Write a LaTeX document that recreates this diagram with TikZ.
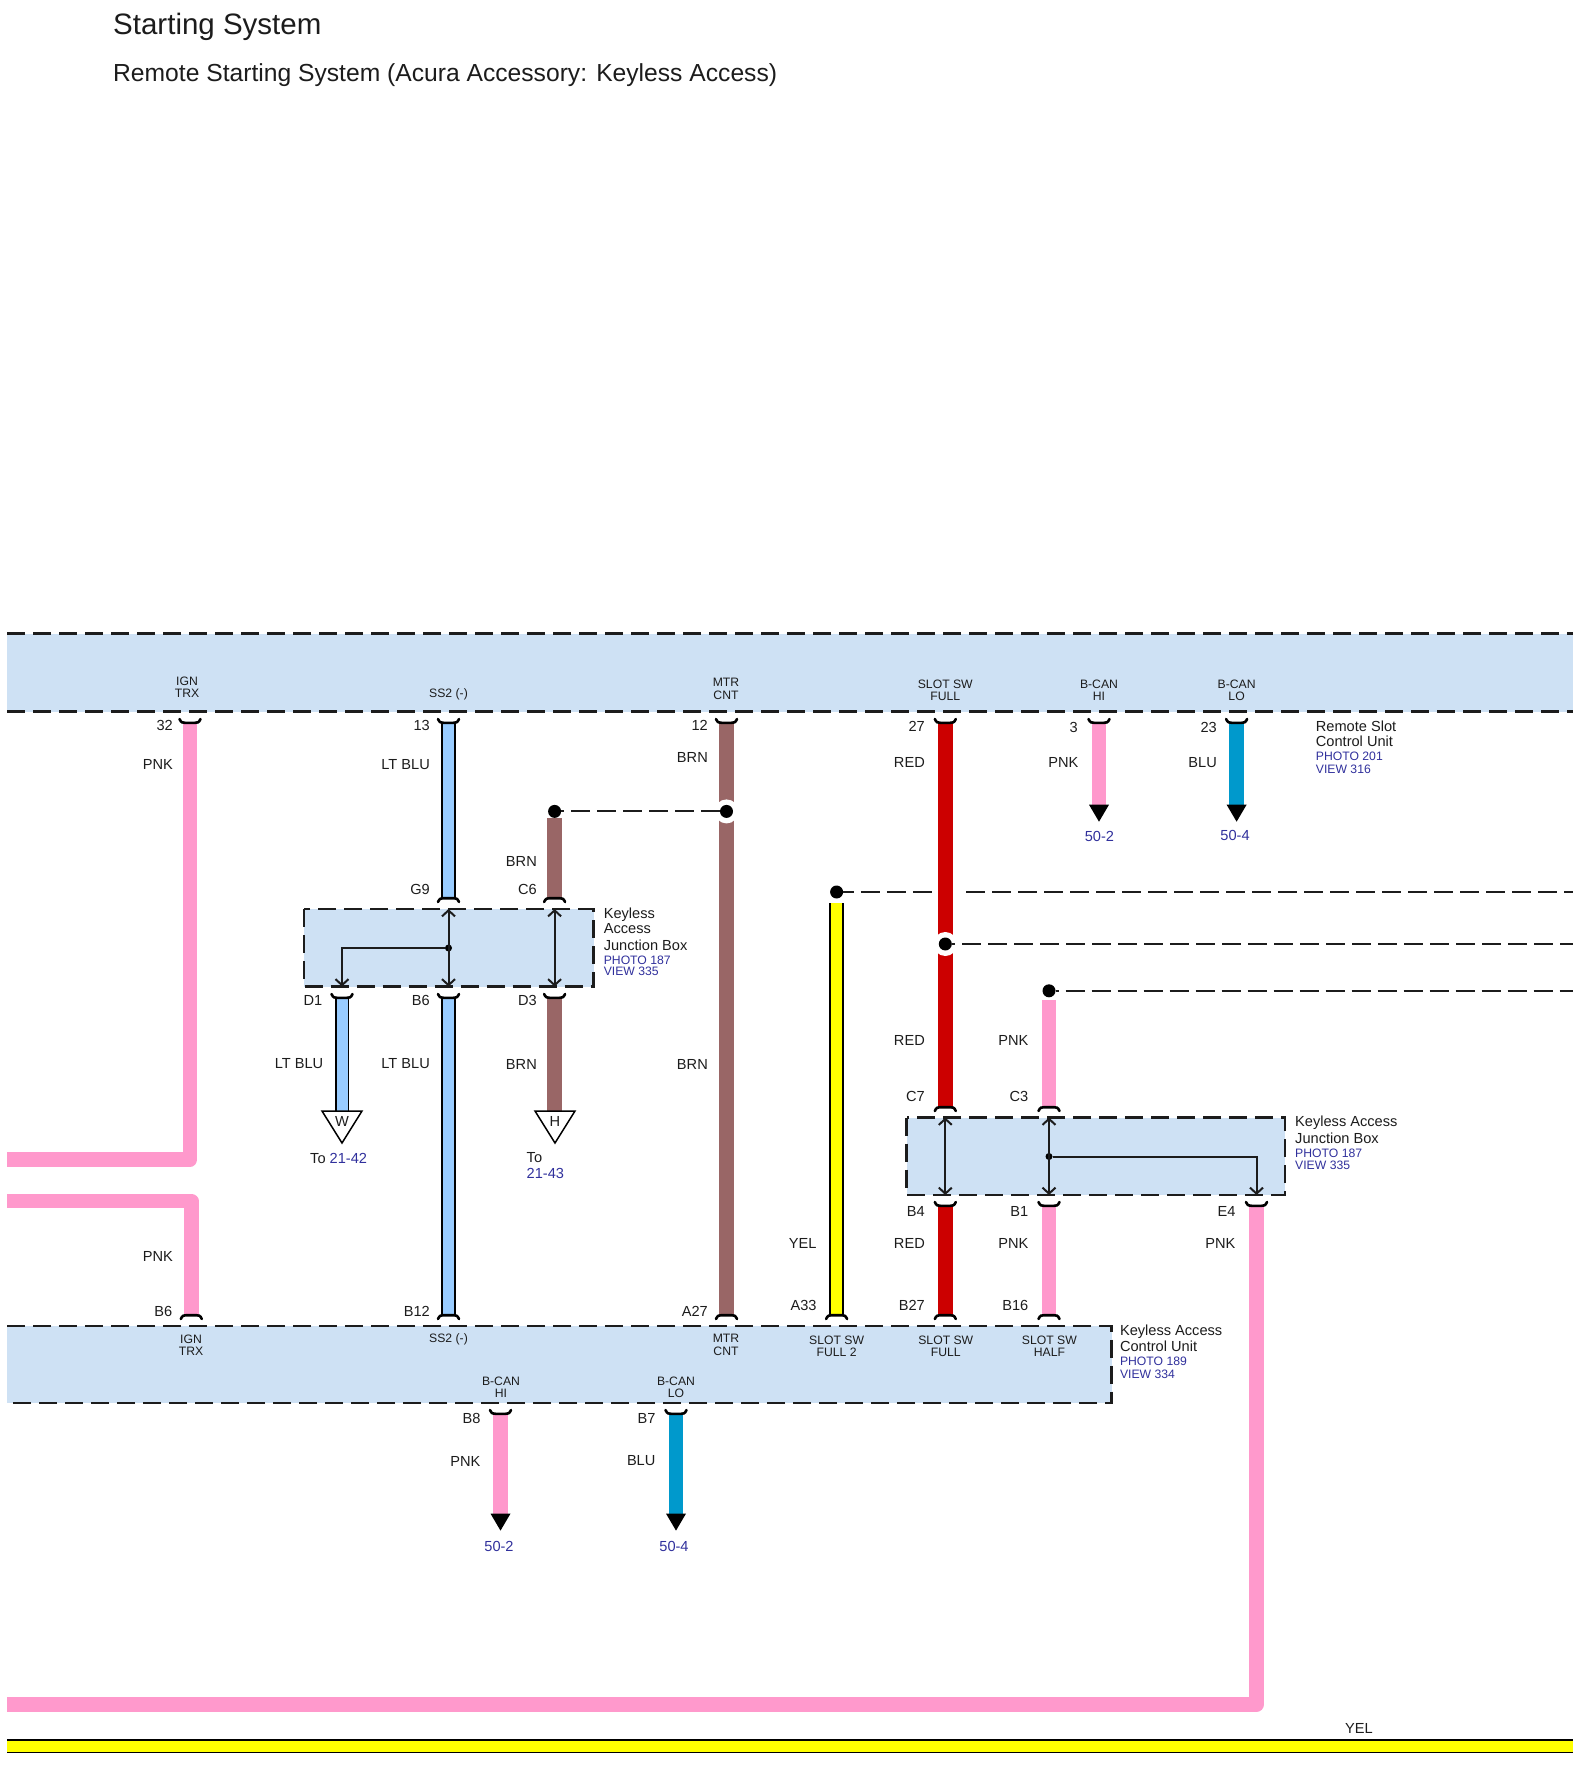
\documentclass[tikz,border=0pt]{standalone}
\usepackage{fontspec}
\setmainfont{Liberation Sans}
\usetikzlibrary{arrows.meta,shapes.geometric}
\definecolor{bandblue}{HTML}{CEE1F4}
\definecolor{wirepnk}{HTML}{FF99CC}
\definecolor{wirebrn}{HTML}{996666}
\definecolor{wirered}{HTML}{CC0000}
\definecolor{wireblu}{HTML}{0099CC}
\definecolor{wireltb}{HTML}{99CCFF}
\definecolor{wireyel}{HTML}{FFFF00}
\definecolor{linkblue}{HTML}{30309C}
\definecolor{inkgrey}{HTML}{1C1C1C}
\tikzset{
  wire/.style={line width=14.4pt,line join=round},
  edgedwire/.style={draw=black,line width=1.7pt,double=#1,double distance=11pt},
  tipped/.style={wire,-{Triangle[black,line width=0pt,width=20pt,length=17pt]}},
  band/.style={fill=bandblue},
  boxline/.style={draw=inkgrey,line width=2.5pt,dash pattern=on 18pt off 8pt},
  dashlink/.style={draw=inkgrey,line width=2pt,dash pattern=on 19pt off 7pt,dash phase=16pt},
  inner/.style={draw=inkgrey,line width=2pt},
  thru/.style={inner,{Straight Barb[length=6pt,width=13pt]}-{Straight Barb[length=6pt,width=13pt]}},
  down/.style={inner,-{Straight Barb[length=6pt,width=13pt]}},
  dot/.style={circle,fill=black,inner sep=0pt,minimum size=13pt},
  smalldot/.style={circle,fill=black,inner sep=0pt,minimum size=7pt},
  halo/.style={circle,fill=white,inner sep=0pt,minimum size=24pt},
  offtri/.style={isosceles triangle,shape border rotate=270,isosceles triangle stretches,outer sep=0pt,
    minimum width=40pt,minimum height=32pt,inner sep=0pt,draw=black,line width=1.5pt,fill=white},
  pinlbl/.style={anchor=east,inner sep=0pt,text=inkgrey,font=\fontsize{14.6}{15}\selectfont},
  termlbl/.style={align=center,inner sep=0pt,text=inkgrey,font=\fontsize{12.2}{12.4}\selectfont},
  namelbl/.style={anchor=west,inner sep=0pt,text=inkgrey,font=\fontsize{14.6}{15}\selectfont},
  reflbl/.style={anchor=west,inner sep=0pt,text=linkblue,font=\fontsize{12.2}{12.4}\selectfont},
  pagelbl/.style={inner sep=0pt,text=linkblue,font=\fontsize{14.6}{15}\selectfont},
  pinb/.pic={\draw[black,line width=2.6pt,line cap=round] (-10.5,-3) .. controls (-9,0.8) and (-7,0.8) .. (-5,0.8) -- (5,0.8) .. controls (7,0.8) and (9,0.8) .. (10.5,-3);},
  pint/.pic={\draw[black,line width=2.6pt,line cap=round] (-10.5,3) .. controls (-9,-0.8) and (-7,-0.8) .. (-5,-0.8) -- (5,-0.8) .. controls (7,-0.8) and (9,-0.8) .. (10.5,3);},
}
\begin{document}
\begin{tikzpicture}[x=1pt,y=-1pt]
\useasboundingbox (0,0) rectangle (1580,1768);
% titles
\node[anchor=west,inner sep=0pt,text=inkgrey,font=\fontsize{29.5}{32}\selectfont] (title) at (113,27) {Starting System};
\node[anchor=west,inner sep=0pt,text=inkgrey,font=\fontsize{24.65}{27}\selectfont] (subtitle) at (113,75) {Remote Starting System (Acura Accessory: Keyless Access)};
% shaded units
\coordinate (topnw) at (7,633.5);
\coordinate (topne) at (1573,633.5);
\coordinate (topsw) at (7,711.5);
\coordinate (topse) at (1573,711.5);
\coordinate (lownw) at (7,1326);
\coordinate (lowne) at (1111.5,1326);
\coordinate (lowsw) at (7,1403);
\coordinate (lowse) at (1111.5,1403);
\path[band] (topnw) rectangle (topse);
\path[band] (lownw) rectangle (lowse);
\path[band] (304,909) rectangle (593.5,986.5);
\path[band] (906.5,1117.5) rectangle (1285,1195);
\path[boxline] (topnw) -- (topne);
\path[boxline] (topsw) -- (topse);
\path[boxline] (lownw) -- (lowne) -- (lowse) -- (lowsw);
\path[boxline] (304,909) rectangle (593.5,986.5);
\path[boxline] (906.5,1117.5) rectangle (1285,1195);
% pin positions
\coordinate (p32) at (190,722);
\coordinate (p13) at (448.5,722);
\coordinate (p12) at (726.5,722);
\coordinate (p27) at (945.3,722);
\coordinate (p3) at (1099,722);
\coordinate (p23) at (1236.6,722);
\coordinate (pg9) at (448.5,899);
\coordinate (pc6) at (554.6,899);
\coordinate (pd1) at (342,997);
\coordinate (pb6) at (448.5,997);
\coordinate (pd3) at (554.6,997);
\coordinate (pc7) at (945.3,1108);
\coordinate (pc3) at (1049,1108);
\coordinate (pb4) at (945.3,1205);
\coordinate (pb1) at (1049,1205);
\coordinate (pe4) at (1256.5,1205);
\coordinate (qb6) at (191.3,1316);
\coordinate (qb12) at (448.5,1316);
\coordinate (qa27) at (726.5,1316);
\coordinate (qa33) at (836.6,1316);
\coordinate (qb27) at (945.3,1316);
\coordinate (qb16) at (1049,1316);
\coordinate (qb8) at (500.5,1413);
\coordinate (qb7) at (676,1413);
% wires
\draw[wire,wirepnk] (p32) -- (190,1159.6) -- (7,1159.6);
\draw[wire,wirepnk] (qb6) -- (191.3,1201) -- (7,1201);
\draw[edgedwire=wireltb] (p13) -- (pg9);
\draw[edgedwire=wireltb] (pb6) -- (qb12);
\draw[edgedwire=wireltb] (pd1) -- (342,1111);
\draw[wire,wirebrn] (p12) -- (qa27);
\draw[wire,wirebrn] (554.6,818) -- (pc6);
\draw[wire,wirebrn] (pd3) -- (554.6,1111);
\draw[wire,wirered] (p27) -- (pc7);
\draw[wire,wirered] (pb4) -- (qb27);
\draw[wire,wirepnk] (1049,1000) -- (pc3);
\draw[wire,wirepnk] (pb1) -- (qb16);
\draw[edgedwire=wireyel] (836.6,903) -- (qa33);
\draw[wire,wirepnk] (pe4) -- (1256.5,1704.6) -- (7,1704.6);
\draw[tipped,wirepnk] (p3) -- (1099,821.7);
\draw[tipped,wireblu] (p23) -- (1236.6,821.7);
\draw[tipped,wirepnk] (qb8) -- (500.5,1530.6);
\draw[tipped,wireblu] (qb7) -- (676,1530.6);
\draw[edgedwire=wireyel] (7,1746) -- (1573,1746);
% connector pins
\pic at (p32) {pinb};
\pic at (p13) {pinb};
\pic at (p12) {pinb};
\pic at (p27) {pinb};
\pic at (p3) {pinb};
\pic at (p23) {pinb};
\pic at (pg9) {pint};
\pic at (pc6) {pint};
\pic at (pd1) {pinb};
\pic at (pb6) {pinb};
\pic at (pd3) {pinb};
\pic at (pc7) {pint};
\pic at (pc3) {pint};
\pic at (pb4) {pinb};
\pic at (pb1) {pinb};
\pic at (pe4) {pinb};
\pic at (qb6) {pint};
\pic at (qb12) {pint};
\pic at (qa27) {pint};
\pic at (qa33) {pint};
\pic at (qb27) {pint};
\pic at (qb16) {pint};
\pic at (qb8) {pinb};
\pic at (qb7) {pinb};
% shield dots and dashed links
\node[halo] (brnhalo) at (726.5,811.4) {};
\node[halo] (redhalo) at (945.3,944) {};
\node[dot] (brndot) at (726.5,811.4) {};
\node[dot] (brnend) at (554.6,811.4) {};
\node[dot] (yeldot) at (836.6,892) {};
\node[dot] (reddot) at (945.3,944) {};
\node[dot] (pnkdot) at (1049,990.8) {};
\coordinate (yelgapl) at (931.5,892);
\coordinate (yelgapr) at (966,892);
\coordinate (yelout) at (1573,892);
\coordinate (redout) at (1573,944);
\coordinate (pnkout) at (1573,990.8);
\draw[dashlink] (brnend) -- (brndot);
\draw[dashlink,dash phase=8.5pt] (yeldot) -- (yelgapl);
\draw[dashlink,dash phase=0pt] (yelgapr) -- (yelout);
\draw[dashlink] (reddot) -- (redout);
\draw[dashlink] (pnkdot) -- (pnkout);
% inside the junction boxes
\node[smalldot] (jbl) at (448.5,948) {};
\node[smalldot] (jbr) at (1049,1156.5) {};
\coordinate (ing9) at (448.5,909);
\coordinate (inb6) at (448.5,986.5);
\coordinate (inc6) at (554.6,909);
\coordinate (ind3) at (554.6,986.5);
\coordinate (ind1) at (342,986.5);
\coordinate (inc7) at (945.3,1117.5);
\coordinate (inb4) at (945.3,1195);
\coordinate (inc3) at (1049,1117.5);
\coordinate (inb1) at (1049,1195);
\coordinate (ine4) at (1256.5,1195);
\draw[thru] (ing9) -- (inb6);
\draw[thru] (inc6) -- (ind3);
\draw[down] (jbl) -| (ind1);
\draw[thru] (inc7) -- (inb4);
\draw[thru] (inc3) -- (inb1);
\draw[down] (jbr) -| (ine4);
% off page triangles
\node[offtri,anchor=apex] (triw) at (342,1143) {};
\node[offtri,anchor=apex] (trih) at (555,1143) {};
\node[inner sep=0pt,text=inkgrey,font=\fontsize{14.6}{15}\selectfont] (triwtxt) at (342,1121) {W};
\node[inner sep=0pt,text=inkgrey,font=\fontsize{14.6}{15}\selectfont] (trihtxt) at (555,1121) {H};
% terminal names
\node[termlbl] (tign) at (187,687) {IGN\\TRX};
\node[termlbl] (tss) at (448.5,694.5) {SS2 (-)};
\node[termlbl] (tmtr) at (726,689) {MTR\\CNT};
\node[termlbl] (tslot) at (945.3,690) {SLOT SW\\FULL};
\node[termlbl] (tcanh) at (1099,690) {B-CAN\\HI};
\node[termlbl] (tcanl) at (1236.6,690) {B-CAN\\LO};
\node[termlbl] (uign) at (191,1345) {IGN\\TRX};
\node[termlbl] (uss) at (448.5,1339) {SS2 (-)};
\node[termlbl] (umtr) at (726,1345) {MTR\\CNT};
\node[termlbl] (uslot2) at (836.6,1346) {SLOT SW\\FULL 2};
\node[termlbl] (uslot) at (945.8,1346) {SLOT SW\\FULL};
\node[termlbl] (uhalf) at (1049.4,1346) {SLOT SW\\HALF};
\node[termlbl] (ucanh) at (501,1387) {B-CAN\\HI};
\node[termlbl] (ucanl) at (676,1387) {B-CAN\\LO};
% pin numbers
\node[pinlbl] (n32) at (173,725) {32};
\node[pinlbl] (n13) at (430,725) {13};
\node[pinlbl] (n12) at (708,725) {12};
\node[pinlbl] (n27) at (925,726) {27};
\node[pinlbl] (n3) at (1078,727) {3};
\node[pinlbl] (n23) at (1217,727) {23};
\node[pinlbl] (ng9) at (430,889) {G9};
\node[pinlbl] (nc6) at (537,889) {C6};
\node[pinlbl] (nd1) at (322.5,1000) {D1};
\node[pinlbl] (nb6) at (430,1000) {B6};
\node[pinlbl] (nd3) at (537,1000) {D3};
\node[pinlbl] (nc7) at (925,1096.5) {C7};
\node[pinlbl] (nc3) at (1028.5,1096.5) {C3};
\node[pinlbl] (nb4) at (925,1211) {B4};
\node[pinlbl] (nb1) at (1028.5,1211) {B1};
\node[pinlbl] (ne4) at (1235.6,1211) {E4};
\node[pinlbl] (mb6) at (172.5,1311) {B6};
\node[pinlbl] (mb12) at (430,1311) {B12};
\node[pinlbl] (ma27) at (708,1311) {A27};
\node[pinlbl] (ma33) at (816.7,1305) {A33};
\node[pinlbl] (mb27) at (925,1305) {B27};
\node[pinlbl] (mb16) at (1028.5,1305) {B16};
\node[pinlbl] (mb8) at (480.6,1418.5) {B8};
\node[pinlbl] (mb7) at (655.6,1418.5) {B7};
% wire colours
\node[pinlbl] (c1) at (173,764.7) {PNK};
\node[pinlbl] (c2) at (430,764.7) {LT BLU};
\node[pinlbl] (c3) at (708,757.8) {BRN};
\node[pinlbl] (c4) at (925,762.4) {RED};
\node[pinlbl] (c5) at (1078.5,762.4) {PNK};
\node[pinlbl] (c6) at (1217,762.4) {BLU};
\node[pinlbl] (c7) at (537,861) {BRN};
\node[pinlbl] (c8) at (323.5,1064) {LT BLU};
\node[pinlbl] (c9) at (430,1064) {LT BLU};
\node[pinlbl] (c10) at (537,1064) {BRN};
\node[pinlbl] (c11) at (708,1064) {BRN};
\node[pinlbl] (c12) at (925,1040) {RED};
\node[pinlbl] (c13) at (1028.5,1040) {PNK};
\node[pinlbl] (c14) at (816.7,1243) {YEL};
\node[pinlbl] (c15) at (925,1243) {RED};
\node[pinlbl] (c16) at (1028.5,1243) {PNK};
\node[pinlbl] (c17) at (1235.6,1243) {PNK};
\node[pinlbl] (c18) at (173,1256) {PNK};
\node[pinlbl] (c19) at (480.6,1461) {PNK};
\node[pinlbl] (c20) at (655.6,1461) {BLU};
\node[pinlbl,anchor=center] (c21) at (1359,1728.5) {YEL};
% unit names and references
\node[namelbl] (remote1) at (1315.7,726) {Remote Slot};
\node[namelbl] (remote2) at (1315.7,741) {Control Unit};
\node[reflbl] (remote3) at (1315.7,756.6) {PHOTO 201};
\node[reflbl] (remote4) at (1315.7,769) {VIEW 316};
\node[namelbl] (jbl1) at (603.6,914.3) {Keyless};
\node[namelbl] (jbl2) at (603.6,929) {Access};
\node[namelbl] (jbl3) at (603.6,945) {Junction Box};
\node[reflbl] (jbl4) at (603.6,960) {PHOTO 187};
\node[reflbl] (jbl5) at (603.6,971.7) {VIEW 335};
\node[namelbl] (jbr1) at (1295,1123) {Keyless Access};
\node[namelbl] (jbr2) at (1295,1138.6) {Junction Box};
\node[reflbl] (jbr3) at (1295,1153.5) {PHOTO 187};
\node[reflbl] (jbr4) at (1295,1165) {VIEW 335};
\node[namelbl] (kacu1) at (1119.8,1331.5) {Keyless Access};
\node[namelbl] (kacu2) at (1119.8,1346) {Control Unit};
\node[reflbl] (kacu3) at (1119.8,1361.5) {PHOTO 189};
\node[reflbl] (kacu4) at (1119.8,1374) {VIEW 334};
% page references
\node[pagelbl] (pg1) at (1099.4,836) {50-2};
\node[pagelbl] (pg2) at (1235,835) {50-4};
\node[pagelbl] (pg3) at (499,1546.7) {50-2};
\node[pagelbl] (pg4) at (674,1546.7) {50-4};
\node[namelbl] (towto) at (310,1158) {To \textcolor{linkblue}{21-42}};
\node[namelbl] (toh) at (526.5,1158) {To};
\node[pagelbl,anchor=west] (tohref) at (526.5,1173) {21-43};
\end{tikzpicture}
\end{document}
